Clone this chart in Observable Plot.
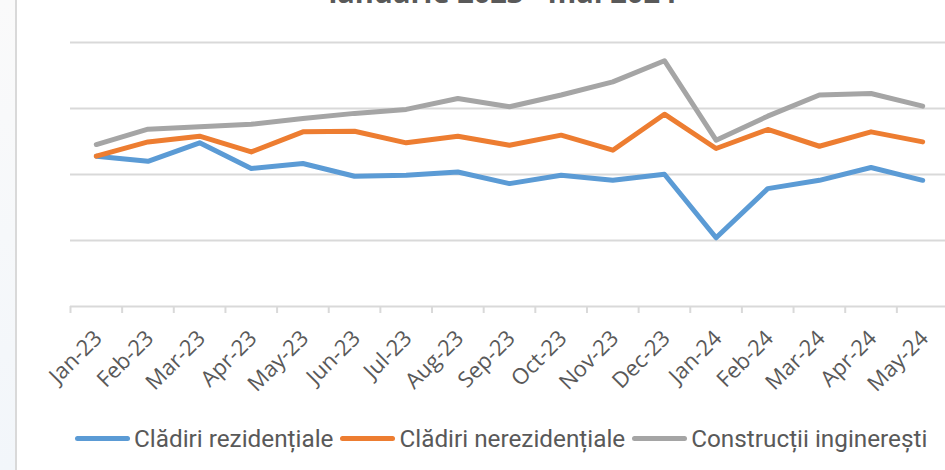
<!DOCTYPE html>
<html>
<head>
<meta charset="utf-8">
<script src="https://cdn.jsdelivr.net/npm/d3@7"></script>
<script src="https://cdn.jsdelivr.net/npm/@observablehq/plot@0.6"></script>
<style>
  html, body { margin: 0; padding: 0; background: #fff; overflow: hidden; }
  #wrap { position: relative; width: 945px; height: 470px; overflow: hidden; }
  #edge { position: absolute; left: 0; top: 0; width: 15px; height: 470px;
          background: linear-gradient(#fafafa, #f2f6fa); border-right: 2px solid #d9d9d9; }
  #title { position: absolute; left: 0; width: 1005px; top: -23px; text-align: center;
           font: bold 29px "Open Sans", sans-serif; color: #595959; line-height: 29px; }
  #chart { position: absolute; left: 0; top: 0; width: 948px; }
  #chart svg { max-width: none !important; }
  #legend { position: absolute; left: 75px; top: 424px; display: flex; align-items: center;
            font: 24.3px Roboto, sans-serif; color: #595959; white-space: nowrap; }
  .item { display: flex; align-items: center; margin-right: 7px; }
  .sw { width: 55px; height: 5px; border-radius: 3px; margin-right: 4px; }
</style>
</head>
<body>
<div id="wrap">
  <div id="edge"></div>
  <div id="title"></div>
  <div id="chart"></div>
  <div id="legend"></div>
</div>
<script>
const titleText = "ianuarie 2023 - mai 2024";
const months = ["Jan-23","Feb-23","Mar-23","Apr-23","May-23","Jun-23","Jul-23","Aug-23","Sep-23","Oct-23","Nov-23","Dec-23","Jan-24","Feb-24","Mar-24","Apr-24","May-24"];
const residential = [113.9,110.0,124.0,104.5,108.3,98.7,99.4,101.9,93.1,99.4,95.6,100.2,52.1,89.3,95.6,105.3,95.6];
const nonResidential = [113.9,124.7,129.0,117.1,132.3,132.8,124.0,129.0,122.2,129.8,118.4,145.7,119.7,134.1,121.4,132.3,124.7];
const engineering = [122.7,134.3,136.1,138.1,142.4,146.3,149.3,157.6,151.3,160.2,170.2,186.2,126.0,144.2,160.2,161.4,151.8];
const seriesNames = ["Clădiri rezidențiale","Clădiri nerezidențiale","Construcții inginerești"];
const seriesColors = ["#5B9BD5","#ED7D31","#A5A5A5"];
const yTicks = [0,50,100,150,200];

const seriesValues = [residential, nonResidential, engineering];
const rows = seriesNames.flatMap((s, k) => months.map((m, i) => ({month: m, value: seriesValues[k][i], series: s})));

const W = 948, H = 410, ML = 70, MR = 0, MT = 42, MB = 104;
const bw = (W - ML - MR) / months.length;

const plot = Plot.plot({
  width: W, height: H,
  marginLeft: ML, marginRight: MR, marginTop: MT, marginBottom: MB,
  style: {background: "transparent", overflow: "visible", maxWidth: "none"},
  x: {type: "band", domain: months, padding: 0, round: false},
  y: {domain: [0, 200], axis: null},
  color: {domain: seriesNames, range: seriesColors},
  marks: [
    Plot.ruleY(yTicks, {stroke: "#d9d9d9", strokeWidth: 2}),
    Plot.axisX({tickSize: 7, tickFormat: () => "", dx: -bw / 2, stroke: "#d9d9d9", strokeWidth: 2, strokeOpacity: 1, label: null}),
    Plot.axisX({tickSize: 0, tickRotate: -45, tickPadding: 28, dx: 2, fontSize: 22, fontFamily: "Open Sans", fill: "#595959", label: null}),
    Plot.line(rows, {x: "month", y: "value", z: "series", stroke: "series", strokeWidth: 5, strokeLinecap: "round", strokeLinejoin: "round"})
  ]
});
document.getElementById("chart").appendChild(plot);
document.getElementById("title").textContent = titleText;

const legend = document.getElementById("legend");
seriesNames.forEach((s, k) => {
  const it = document.createElement("div"); it.className = "item";
  const sw = document.createElement("div"); sw.className = "sw"; sw.style.background = seriesColors[k];
  const tx = document.createElement("span"); tx.textContent = s;
  it.appendChild(sw); it.appendChild(tx); legend.appendChild(it);
});
</script>
</body>
</html>
